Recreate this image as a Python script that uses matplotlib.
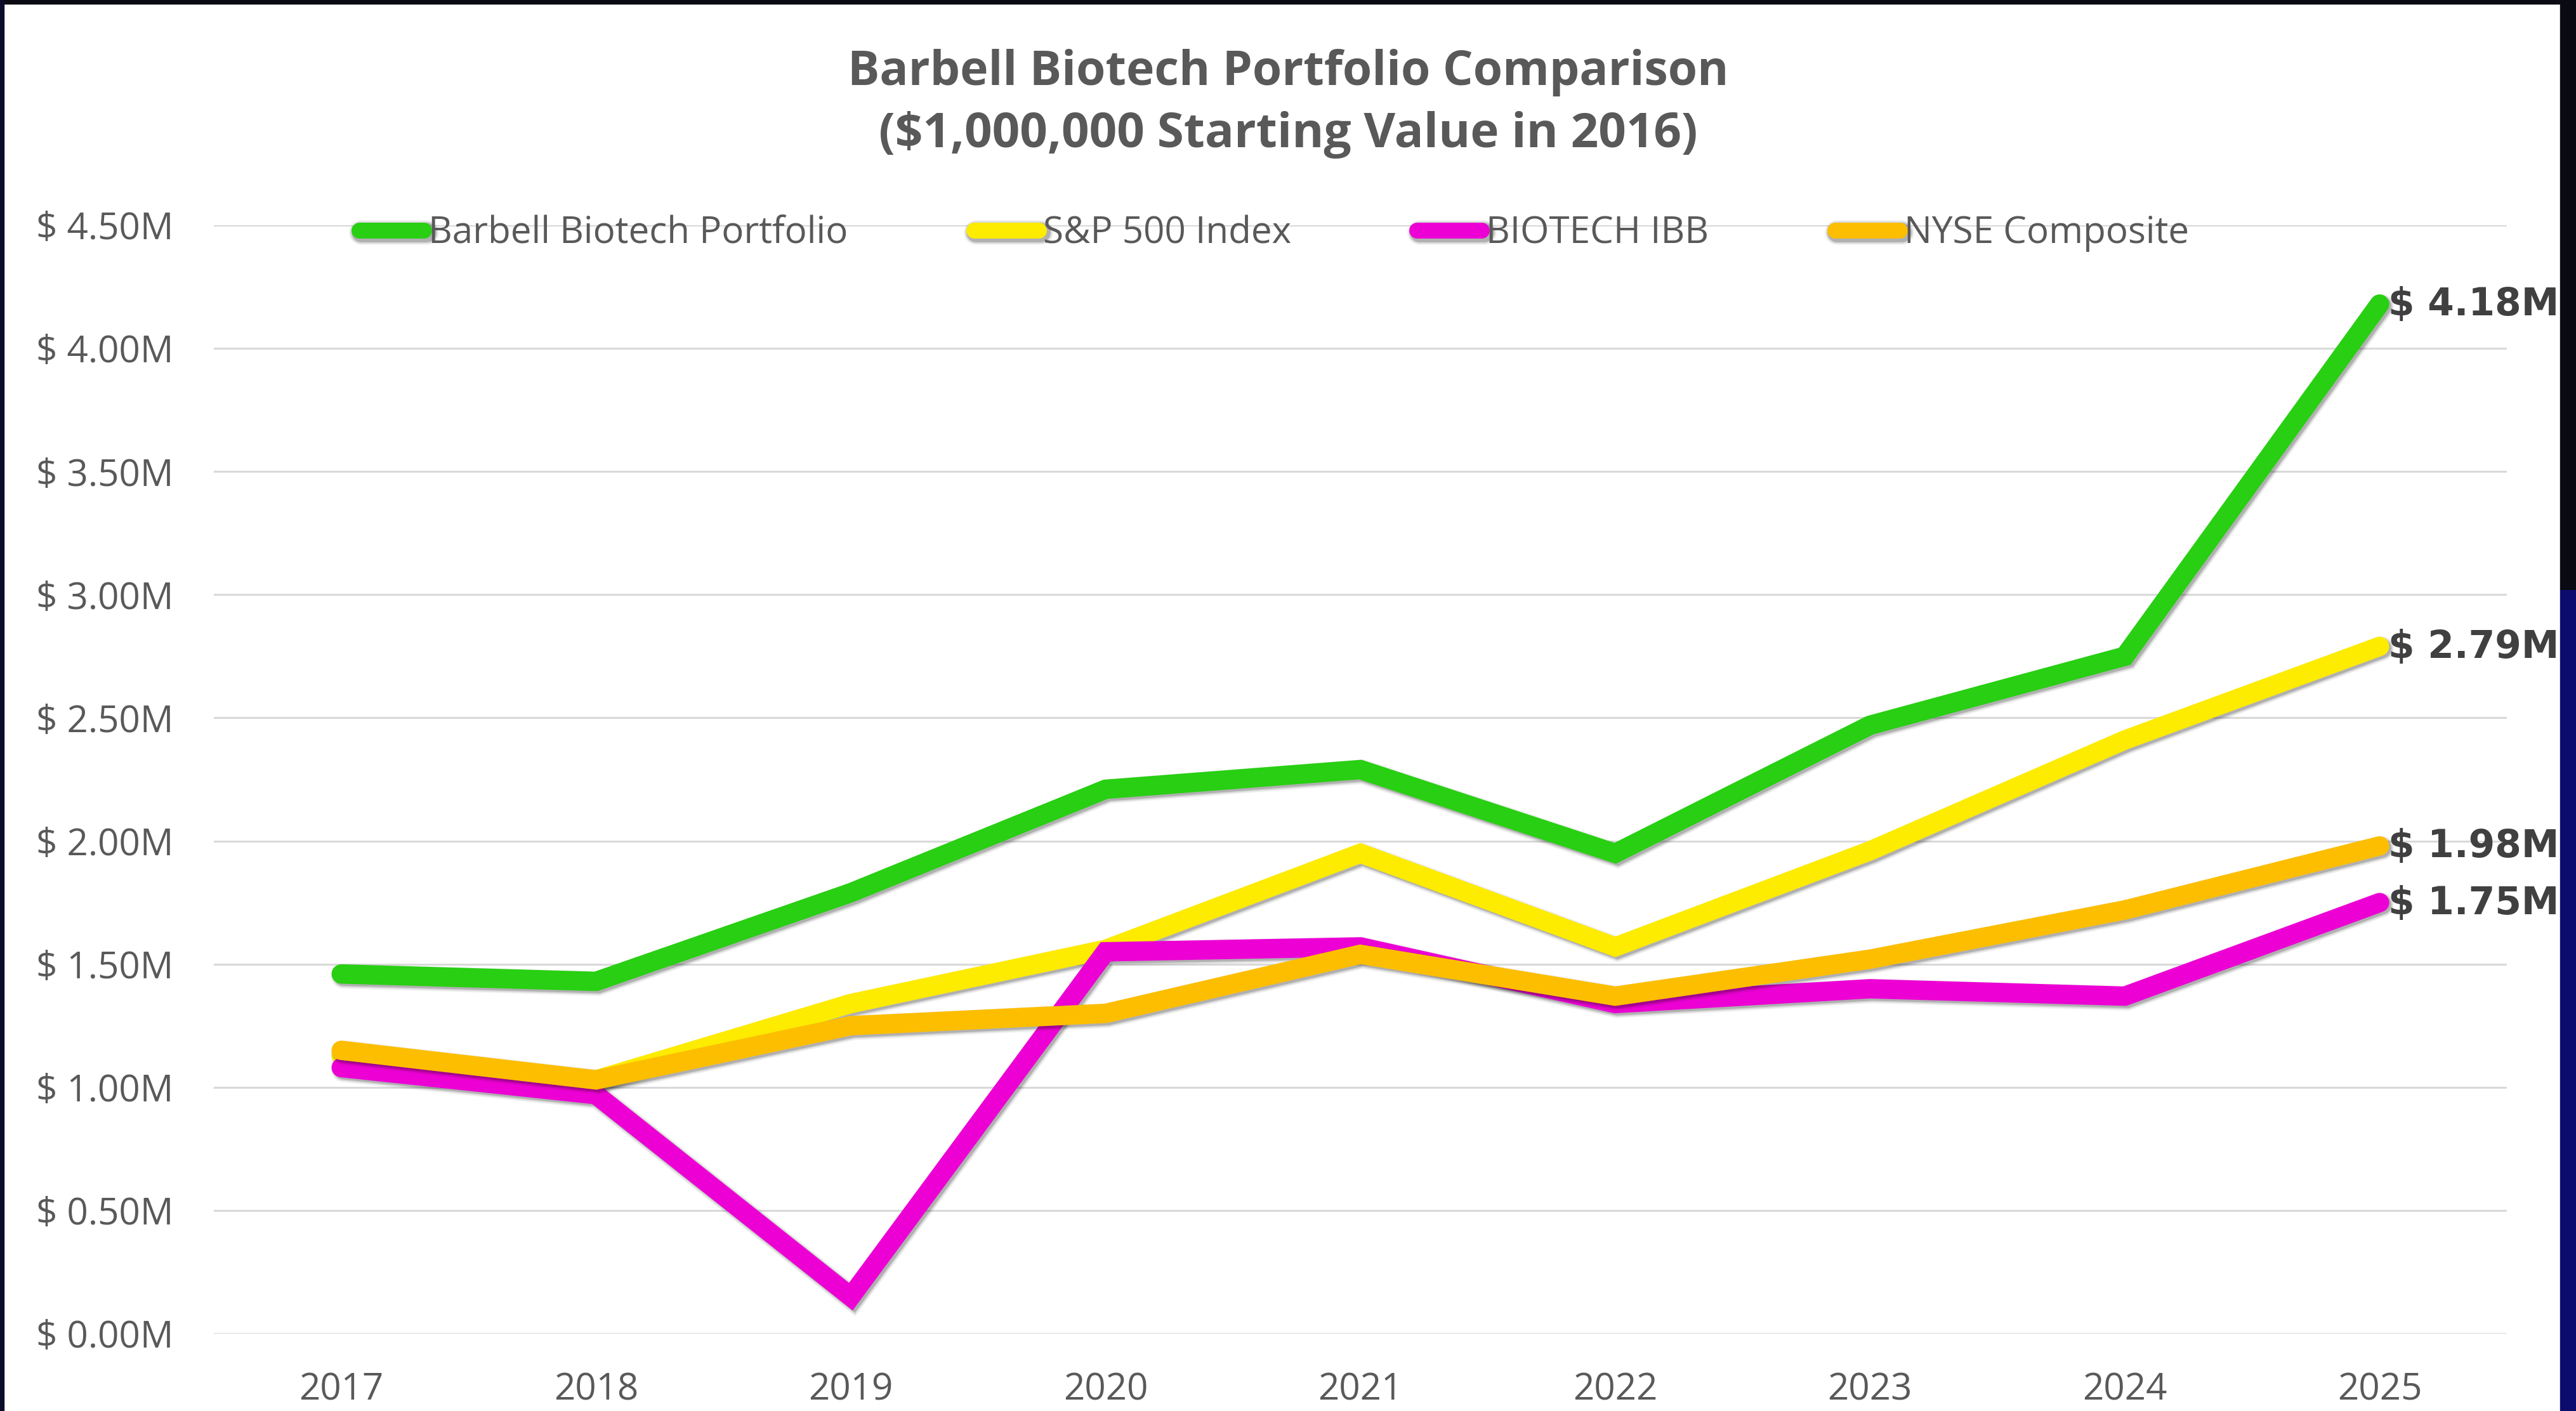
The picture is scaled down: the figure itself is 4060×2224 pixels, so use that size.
import matplotlib
matplotlib.use('Agg')
import matplotlib.pyplot as plt
import matplotlib.patheffects as pe
from matplotlib.patches import Rectangle

# Dados (milhões de dólares)
anos = ['2017', '2018', '2019', '2020', '2021', '2022', '2023', '2024', '2025']
barbell = [1.46, 1.43, 1.79, 2.21, 2.29, 1.95, 2.47, 2.75, 4.18]
sp500 = [1.13, 1.03, 1.34, 1.56, 1.95, 1.57, 1.96, 2.41, 2.79]
ibb = [1.08, 0.97, 0.15, 1.55, 1.57, 1.34, 1.40, 1.37, 1.75]
nyse = [1.15, 1.03, 1.25, 1.30, 1.54, 1.37, 1.52, 1.72, 1.98]

nomes = ['Barbell Biotech Portfolio', 'S&P 500 Index', 'BIOTECH IBB', 'NYSE Composite']
cores = ['#28CF12', '#FDEB00', '#EC00D4', '#FDBE00']
y_ticks = [0, 0.5, 1.0, 1.5, 2.0, 2.5, 3.0, 3.5, 4.0, 4.5]

cinza = '#595959'
fonte = ['Open Sans', 'DejaVu Sans']

fig = plt.figure(figsize=(40.6, 22.24), dpi=100)
fig.patch.set_facecolor('white')

# Moldura escura nas bordas
fig.patches.append(Rectangle((0, 1 - 6 / 2224), 1, 6 / 2224, transform=fig.transFigure,
                             color='#0a0a12', zorder=-1))
fig.patches.append(Rectangle((0, 0), 6 / 4060, 1, transform=fig.transFigure,
                             color='#0b0b2a', zorder=-1))
fig.patches.append(Rectangle((1 - 25 / 4060, 1 - 930 / 2224), 25 / 4060, 930 / 2224,
                             transform=fig.transFigure, color='#0a0a12', zorder=-1))
fig.patches.append(Rectangle((1 - 25 / 4060, 0), 25 / 4060, 1 - 930 / 2224,
                             transform=fig.transFigure, color='#0c0c6e', zorder=-1))

ax = fig.add_axes([0.0830, 0.05486, 0.8902, 0.7855])
x = list(range(len(anos)))

# sombra suave (várias camadas)
sombra = [
    pe.SimpleLineShadow(offset=(2.5, -2.5), shadow_color='black', alpha=0.06, linewidth=28),
    pe.SimpleLineShadow(offset=(2.5, -2.5), shadow_color='black', alpha=0.10, linewidth=25),
    pe.SimpleLineShadow(offset=(2.5, -2.5), shadow_color='black', alpha=0.18, linewidth=22),
    pe.Normal(),
]

for serie, nome, cor in zip([barbell, sp500, ibb, nyse], nomes, cores):
    ax.plot(x, serie, color=cor, linewidth=22, label=nome,
            solid_capstyle='round', solid_joinstyle='miter', path_effects=sombra)
    ax.annotate(f'$ {serie[-1]:.2f}M', xy=(x[-1], serie[-1]), xytext=(10, -1),
                textcoords='offset points', ha='left', va='center',
                fontsize=43, fontweight='bold', color='#404040',
                family='DejaVu Sans', annotation_clip=False)

ax.set_xlim(-0.5, len(anos) - 0.5)
ax.set_ylim(0, 4.5)
ax.set_xticks(x)
ax.set_xticklabels(anos)
ax.set_yticks(y_ticks)
ax.set_yticklabels([f'$ {v:.2f}M' for v in y_ticks])

for lbl in ax.get_xticklabels() + ax.get_yticklabels():
    lbl.set_family(fonte)
    lbl.set_fontsize(42)
    lbl.set_color(cinza)

ax.tick_params(axis='both', length=0)
ax.tick_params(axis='y', pad=46)
ax.tick_params(axis='x', pad=43)

ax.grid(True, axis='y', color='#D9D9D9', linewidth=2.2)
ax.set_axisbelow(True)
for s in ax.spines.values():
    s.set_visible(False)

# Título
fig.text(0.5, 1 - 114 / 2224, 'Barbell Biotech Portfolio Comparison', ha='center', va='center',
         fontsize=54, fontweight='bold', color=cinza, family=fonte)
fig.text(0.5, 1 - 213 / 2224, '($1,000,000 Starting Value in 2016)', ha='center', va='center',
         fontsize=55, fontweight='bold', color=cinza, family=fonte)

# Legenda
leg = fig.legend(loc='center', bbox_to_anchor=(2008 / 4060, 1 - 368 / 2224), ncol=4,
                 frameon=False, handlelength=1.75, handletextpad=0.12, columnspacing=3.4,
                 borderpad=0, prop={'family': fonte, 'size': 42})
for t in leg.get_texts():
    t.set_color(cinza)
for h in leg.legend_handles:
    h.set_linewidth(18)

plt.savefig('out.png', dpi=100, facecolor='white')
plt.close()
